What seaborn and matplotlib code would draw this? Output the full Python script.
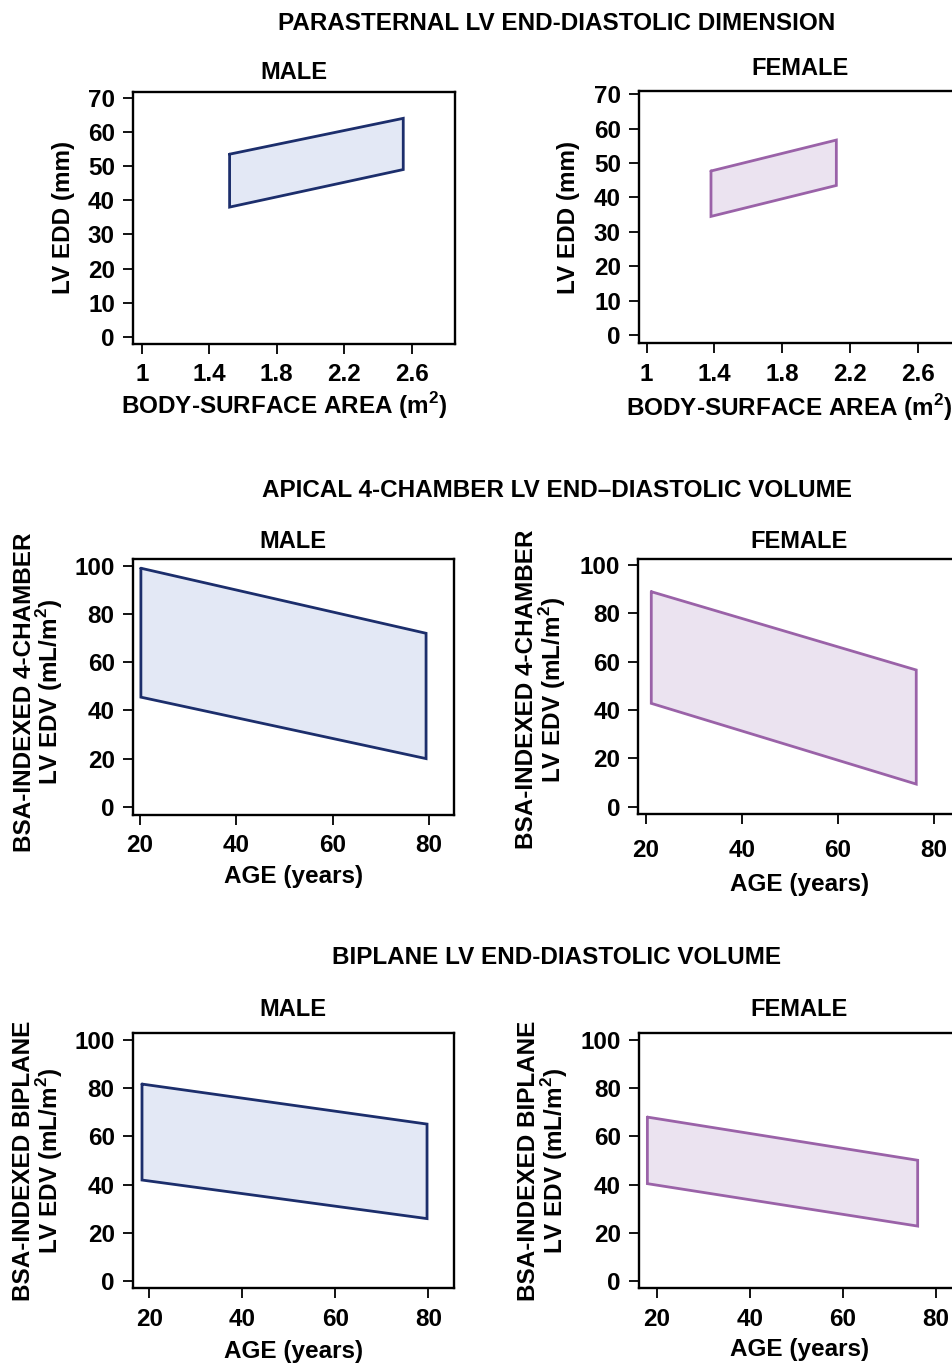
import numpy as np
import pandas as pd
import matplotlib
matplotlib.use("Agg")
import matplotlib.pyplot as plt
import seaborn as sns

# ---------------- data ----------------
# Parasternal LV end-diastolic dimension vs body-surface area
edd_bsa_male = [1.52, 2.55]
edd_upper_male = [53.5, 64.0]
edd_lower_male = [38.0, 49.0]
edd_bsa_female = [1.38, 2.12]
edd_upper_female = [47.7, 56.7]
edd_lower_female = [34.5, 43.5]

# Apical 4-chamber LV EDV (BSA-indexed) vs age
a4c_age_male = [20.2, 79.4]
a4c_upper_male = [99.0, 72.0]
a4c_lower_male = [45.5, 20.0]
a4c_age_female = [21.2, 76.3]
a4c_upper_female = [89.0, 56.6]
a4c_lower_female = [42.8, 9.4]

# Biplane LV EDV (BSA-indexed) vs age
bp_age_male = [18.4, 79.7]
bp_upper_male = [81.7, 65.1]
bp_lower_male = [41.9, 25.9]
bp_age_female = [18.0, 76.1]
bp_upper_female = [68.0, 50.1]
bp_lower_female = [40.4, 22.8]

bsa_ticks = [1, 1.4, 1.8, 2.2, 2.6]
bsa_ticklabels = ["1", "1.4", "1.8", "2.2", "2.6"]
edd_ticks = [0, 10, 20, 30, 40, 50, 60, 70]
age_ticks = [20, 40, 60, 80]
edv_ticks = [0, 20, 40, 60, 80, 100]

section_titles = ["PARASTERNAL LV END-DIASTOLIC DIMENSION",
                  "APICAL 4-CHAMBER LV END\u2013DIASTOLIC VOLUME",
                  "BIPLANE LV END-DIASTOLIC VOLUME"]

# ---------------- style ----------------
sns.set_theme(style="ticks")
plt.rcParams['font.family'] = ['Liberation Sans', 'DejaVu Sans']
plt.rcParams['font.weight'] = 'bold'
plt.rcParams['axes.labelweight'] = 'bold'
plt.rcParams['axes.titleweight'] = 'bold'
plt.rcParams['text.color'] = 'black'
plt.rcParams['axes.labelcolor'] = 'black'
plt.rcParams['xtick.color'] = 'black'
plt.rcParams['ytick.color'] = 'black'
plt.rcParams['mathtext.fontset'] = 'custom'
plt.rcParams['mathtext.rm'] = 'Liberation Sans'
plt.rcParams['mathtext.bf'] = 'Liberation Sans:bold'

MALE_EDGE, MALE_FILL = "#1c2e6c", "#e3e8f5"
FEM_EDGE, FEM_FILL = "#9a62a8", "#ebe3f0"

FS = 17.5

W, H = 953, 1365
fig = plt.figure(figsize=(W / 100, H / 100), dpi=100)
fig.patch.set_facecolor("white")


def add_ax(left, top, right, bottom):
    return fig.add_axes([left / W, 1 - bottom / H, (right - left) / W, (bottom - top) / H])


def band(ax, xs, upper, lower, edge, fill):
    px = [xs[0], xs[1], xs[1], xs[0], xs[0]]
    py = [upper[0], upper[1], lower[1], lower[0], upper[0]]
    df = pd.DataFrame({"x": px, "y": py})
    ax.fill(df["x"], df["y"], color=fill, zorder=1, lw=0)
    sns.lineplot(data=df, x="x", y="y", sort=False, estimator=None, ax=ax,
                 color=edge, lw=2.0, zorder=2, solid_joinstyle="miter")


def style_ax(ax, xlim, ylim, xticks, xticklabels, yticks, title, title_pad,
             xlabel, xl_coords, ylabel, yl_coords, xpad=7):
    ax.set_xlim(*xlim)
    ax.set_ylim(*ylim)
    ax.set_xticks(xticks)
    ax.set_xticklabels(xticklabels)
    ax.set_yticks(yticks)
    ax.tick_params(axis="both", direction="out", length=7, width=1.3,
                   labelsize=FS, color="black", labelcolor="black")
    ax.tick_params(axis="x", pad=xpad)
    ax.tick_params(axis="y", pad=6)
    for lab in ax.get_xticklabels() + ax.get_yticklabels():
        lab.set_fontweight("bold")
    for s in ax.spines.values():
        s.set_visible(True)
        s.set_linewidth(1.7)
        s.set_color("black")
    ax.set_facecolor("white")
    ax.set_title(title, fontsize=17, fontweight="bold", pad=title_pad, color="black")
    ax.set_xlabel(xlabel, fontsize=FS, fontweight="bold", va="center", color="black")
    ax.xaxis.set_label_coords(*xl_coords)
    ax.set_ylabel(ylabel, fontsize=FS, fontweight="bold", va="center",
                  linespacing=0.95, color="black")
    ax.yaxis.set_label_coords(*yl_coords)


bsa_label = r"BODY-SURFACE AREA (m$^{\mathbf{2}}$)"
age_label = "AGE (years)"

# Row 1
ax1 = add_ax(133, 91.7, 455, 344)
band(ax1, edd_bsa_male, edd_upper_male, edd_lower_male, MALE_EDGE, MALE_FILL)
style_ax(ax1, (0.947, 2.857), (-2.1, 71.8), bsa_ticks, bsa_ticklabels, edd_ticks,
         "MALE", 9, bsa_label, (0.469, -0.242), "LV EDD (mm)", (-0.215, 0.5))

ax2 = add_ax(639, 90.7, 961, 343.3)
band(ax2, edd_bsa_female, edd_upper_female, edd_lower_female, FEM_EDGE, FEM_FILL)
style_ax(ax2, (0.955, 2.856), (-2.4, 71.05), bsa_ticks, bsa_ticklabels, edd_ticks,
         "FEMALE", 11, bsa_label, (0.465, -0.256), "LV EDD (mm)", (-0.218, 0.5))

# Row 2
ylab_a4c = "BSA-INDEXED 4-CHAMBER\n" + r"LV EDV (mL/m$^{\mathbf{2}}$)"
ax3 = add_ax(132.7, 559.3, 454, 815)
band(ax3, a4c_age_male, a4c_upper_male, a4c_lower_male, MALE_EDGE, MALE_FILL)
style_ax(ax3, (18.5, 85.2), (-3.4, 102.7), age_ticks, [str(t) for t in age_ticks], edv_ticks,
         "MALE", 8, age_label, (0.5, -0.239), ylab_a4c, (-0.292, 0.48))

ax4 = add_ax(638.3, 559.3, 960, 814.3)
band(ax4, a4c_age_female, a4c_upper_female, a4c_lower_female, FEM_EDGE, FEM_FILL)
style_ax(ax4, (18.5, 85.4), (-3.1, 102.4), age_ticks, [str(t) for t in age_ticks], edv_ticks,
         "FEMALE", 8, age_label, (0.502, -0.277), ylab_a4c, (-0.302, 0.49), xpad=11)

# Row 3
ylab_bp = "BSA-INDEXED BIPLANE\n" + r"LV EDV (mL/m$^{\mathbf{2}}$)"
ax5 = add_ax(132.7, 1032.7, 454, 1288.3)
band(ax5, bp_age_male, bp_upper_male, bp_lower_male, MALE_EDGE, MALE_FILL)
style_ax(ax5, (16.4, 85.5), (-3.0, 103.0), age_ticks, [str(t) for t in age_ticks], edv_ticks,
         "MALE", 12, age_label, (0.5, -0.249), ylab_bp, (-0.294, 0.50))

ax6 = add_ax(639, 1032.7, 960, 1288.3)
band(ax6, bp_age_female, bp_upper_female, bp_lower_female, FEM_EDGE, FEM_FILL)
style_ax(ax6, (16.2, 85.2), (-3.0, 103.0), age_ticks, [str(t) for t in age_ticks], edv_ticks,
         "FEMALE", 12, age_label, (0.5, -0.241), ylab_bp, (-0.297, 0.50))

# Section titles
for txt, y in zip(section_titles, [23, 490, 958]):
    fig.text(557 / W, 1 - y / H, txt, ha="center", va="center",
             fontsize=FS, fontweight="bold", color="black")

fig.savefig("out.png", dpi=100, facecolor="white")
